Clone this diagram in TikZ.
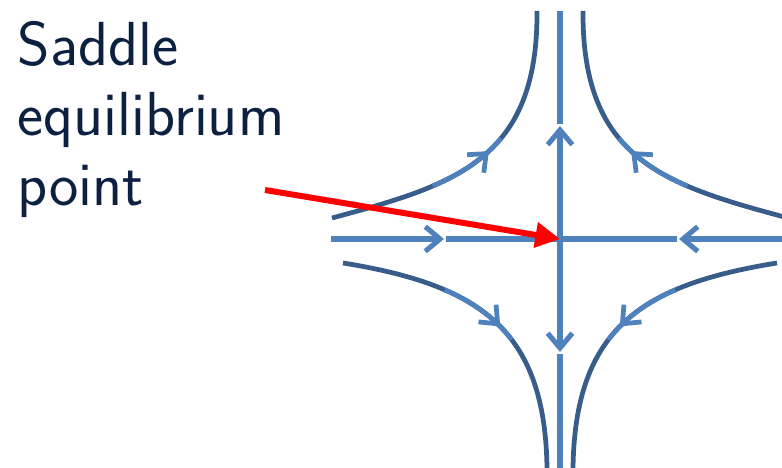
\documentclass[tikz,border=0pt]{standalone}
\usepackage{tikz}
\usetikzlibrary{arrows.meta, decorations.markings}
\definecolor{SADlight}{HTML}{4F81BD}
\definecolor{SADdark}{HTML}{385D8A}
\definecolor{SADtext}{HTML}{0C2142}

\begin{document}
\begin{tikzpicture}[x=0.01cm, y=-0.01cm,
    axis/.style={SADlight, line width=1.45pt},
    axisarrow/.style={axis, -{Straight Barb[length=4.2pt, width=7pt]}},
    orbit/.style={SADdark, line width=1.35pt,
      postaction={draw=SADlight, dash pattern=on 0pt off 30pt on 24pt off 500pt},
      postaction={decorate},
      decoration={markings, mark=at position 0.53 with
        {\arrow[SADlight, line width=1.35pt]{Straight Barb[length=4.2pt, width=7pt]}}}},
    pointer/.style={red, line width=1.7pt, -{Triangle[length=7pt, width=7pt]}},
    titletext/.style={SADtext, inner sep=0pt, align=left,
      font=\sffamily\fontsize{17.7}{19.9}\selectfont}
  ]
    \useasboundingbox (0,0) rectangle (782,468);
    \clip (0,0) rectangle (782,468);

    \node[titletext, anchor=north west] (title) at (17,21)
      {Saddle\\equilibrium\\point};

    \coordinate (O) at (560,239);
    \coordinate (W) at (331,239);
    \coordinate (E) at (782,239);
    \coordinate (N) at (560,11);
    \coordinate (S) at (560,468);
    \coordinate (Wtip) at (444,239);
    \coordinate (Etip) at (679,239);
    \coordinate (Ntip) at (560,126);
    \coordinate (Stip) at (560,352);

    \draw[axisarrow] (W) -- (Wtip);
    \draw[axis, shorten <=0.6pt] (Wtip) -- (O);
    \draw[axisarrow] (E) -- (Etip);
    \draw[axis, shorten <=0.6pt] (Etip) -- (O);
    \draw[axisarrow] (O) -- (Ntip);
    \draw[axis, shorten <=0.6pt] (Ntip) -- (N);
    \draw[axisarrow] (O) -- (Stip);
    \draw[axis, shorten <=0.6pt] (Stip) -- (S);

    \draw[orbit] (332,218) .. controls (455,185) and (538,160) .. (537,11);
    \draw[orbit] (788,218) .. controls (665,185) and (582,160) .. (583,11);
    \draw[orbit] (343,263) .. controls (480,285) and (545,330) .. (547,468);
    \draw[orbit] (777,263) .. controls (640,285) and (575,330) .. (573,468);

    \coordinate (tail) at (265,190);
    \draw[pointer] (tail) -- (O);
  \end{tikzpicture}
\end{document}
